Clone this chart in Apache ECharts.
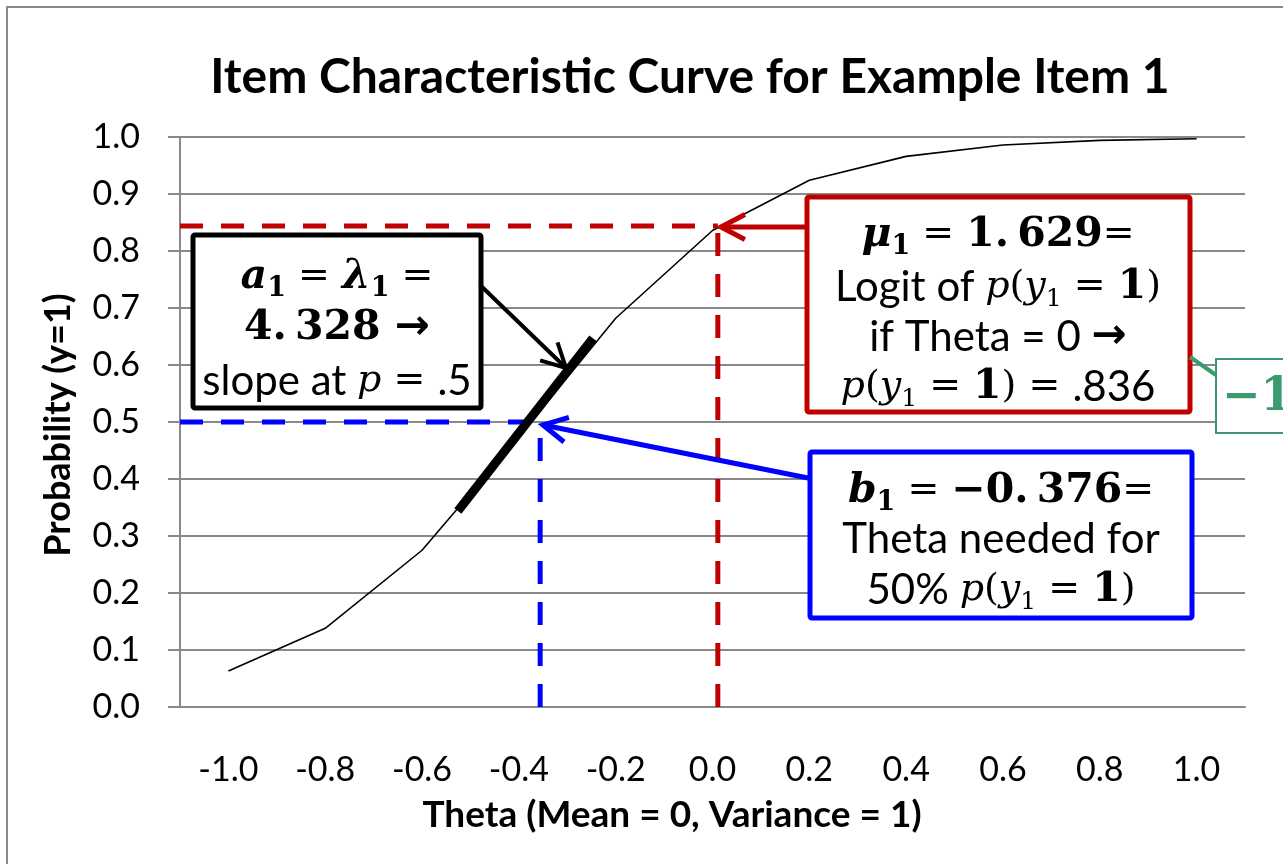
<!DOCTYPE html>
<html lang="en">
<head>
    <meta charset="UTF-8">
    <title>Item Characteristic Curve</title>
    <script src="https://cdn.jsdelivr.net/npm/echarts@6/dist/echarts.min.js"></script>
    <style>
        body { margin: 0; background: #fff; }
        #chart { width: 1283px; height: 864px; }
    </style>
</head>
<body>
<div id="chart"></div>
<script type="text/javascript">

// data
var thetaLabels = ['-1.0', '-0.8', '-0.6', '-0.4', '-0.2', '0.0', '0.2', '0.4', '0.6', '0.8', '1.0'];
var theta = [-1.0, -0.8, -0.6, -0.4, -0.2, 0.0, 0.2, 0.4, 0.6, 0.8, 1.0];
var prob = [0.063, 0.138, 0.275, 0.474, 0.682, 0.836, 0.924, 0.966, 0.986, 0.994, 0.997];

// guide lines (theta, p): horizontal from the y axis, vertical from the x axis
var bGuideH = [[-1.1, 0.5], [-0.356, 0.5]];
var bGuideV = [[-0.356, 0], [-0.356, 0.5]];
var muGuideH = [[-1.1, 0.844], [0.011, 0.844]];
var muGuideV = [[0.011, 0], [0.011, 0.844]];
var slopeLine = [[-0.526, 0.344], [-0.247, 0.647]];

var myChart = echarts.init(document.getElementById('chart'));

var gray = '#898989';
var sans = 'Lato';
var serif = 'DejaVu Serif';

function pairs(xs, ys) {
    var out = [];
    for (var i = 0; i < xs.length; i++) out.push([xs[i], ys[i]]);
    return out;
}

// open arrow head like the excel shapes
function arrow(x1, y1, x2, y2, color, w) {
    var ang = Math.atan2(y2 - y1, x2 - x1);
    var L = 27, a = Math.PI / 6.5;
    var p1 = [x2 - L * Math.cos(ang - a), y2 - L * Math.sin(ang - a)];
    var p2 = [x2 - L * Math.cos(ang + a), y2 - L * Math.sin(ang + a)];
    return [
        {type: 'line', z: 100, shape: {x1: x1, y1: y1, x2: x2, y2: y2}, style: {stroke: color, lineWidth: w}},
        {type: 'polyline', z: 100, shape: {points: [p1, [x2, y2], p2]}, style: {stroke: color, lineWidth: w, fill: null}}
    ];
}

function box(x, y, w, h, color, lw) {
    return {type: 'rect', z: 90, shape: {x: x, y: y, width: w, height: h, r: 2},
        style: {fill: '#fff', stroke: color, lineWidth: lw}};
}

function guide(name, data, color) {
    return {
        name: name, type: 'line', xAxisIndex: 1, data: data,
        symbol: 'none', lineStyle: {color: color, width: 5, type: [23, 18]}, z: 4
    };
}

var rich = {
    mb: {fontFamily: serif, fontWeight: 'bold', fontStyle: 'italic', fontSize: 41, lineHeight: 50, verticalAlign: 'middle', color: '#000'},
    nb: {fontFamily: serif, fontWeight: 'bold', fontSize: 41, lineHeight: 50, verticalAlign: 'middle', color: '#000'},
    op: {fontFamily: serif, fontSize: 38, lineHeight: 50, verticalAlign: 'middle', color: '#000'},
    mi: {fontFamily: serif, fontStyle: 'italic', fontSize: 38, lineHeight: 50, verticalAlign: 'middle', color: '#000'},
    sb: {fontFamily: serif, fontWeight: 'bold', fontSize: 27, lineHeight: 27, verticalAlign: 'bottom', color: '#000'},
    si: {fontFamily: serif, fontSize: 25, lineHeight: 25, verticalAlign: 'bottom', color: '#000'},
    w: {fontFamily: sans, fontSize: 42, lineHeight: 50, verticalAlign: 'middle', color: '#000'},
    ar: {fontFamily: 'DejaVu Sans', fontWeight: 'bold', fontSize: 42, lineHeight: 50, verticalAlign: 'middle', color: '#000'}
};

function label(x, y, text) {
    return {type: 'text', z: 110, x: x, y: y,
        style: {text: text, rich: rich, align: 'center', verticalAlign: 'middle'}};
}

var graphics = [
    // outer chart border
    {type: 'rect', z: 1, shape: {x: 7, y: 7, width: 1400, height: 1000},
        style: {fill: null, stroke: gray, lineWidth: 2}},
    {type: 'text', x: 690, y: 78, style: {text: 'Item Characteristic Curve for Example Item 1',
        fontFamily: sans, fontWeight: 'bold', fontSize: 48, fill: '#000', align: 'center', verticalAlign: 'middle'}},
    {type: 'text', x: 672, y: 815, style: {text: 'Theta (Mean = 0, Variance = 1)',
        fontFamily: sans, fontWeight: 'bold', fontSize: 37, fill: '#000', align: 'center', verticalAlign: 'middle'}},
    {type: 'text', x: 58, y: 425, rotation: Math.PI / 2, style: {text: 'Probability (y=1)',
        fontFamily: sans, fontWeight: 'bold', fontSize: 36, fill: '#000', align: 'center', verticalAlign: 'middle'}},

    // a1 box
    box(193, 235, 288, 173, '#000', 5),
    label(337, 277, '{mb|a}{sb|1}{op| = }{mb|λ}{sb|1}{op| =}'),
    label(337, 328, '{nb|4.\u2009328 }{ar|→}'),
    label(337, 381, '{w|slope at }{mi|p}{op| = }{w|.5}'),

    // mu box
    box(807, 197, 383, 215, '#c00000', 5),
    label(998, 235, '{mb|μ}{sb|1}{op| = }{nb|1.\u2009629}{op|=}'),
    label(998, 287, '{w|Logit of }{mi|p}{op|(}{mi|y}{si|1}{op| = }{nb|1}{op|)}'),
    label(998, 337, '{w|if Theta = 0 }{ar|→}'),
    label(998, 387, '{mi|p}{op|(}{mi|y}{si|1}{op| = }{nb|1}{op|) = }{w|.836}'),

    // b box
    box(810, 452, 382, 166, '#0000ff', 5),
    label(1001, 491, '{mb|b}{sb|1}{op| = }{nb|−0.\u2009376}{op|=}'),
    label(1001, 539, '{w|Theta needed for}'),
    label(1001, 590, '{w|50% }{mi|p}{op|(}{mi|y}{si|1}{op| = }{nb|1}{op|)}'),

    // green cut-off box at the right edge
    {type: 'line', z: 100, shape: {x1: 1190, y1: 357, x2: 1216, y2: 375}, style: {stroke: '#3b9b6f', lineWidth: 4}},
    {type: 'rect', z: 90, shape: {x: 1216, y: 359, width: 120, height: 74}, style: {fill: '#fff', stroke: '#3b9b6f', lineWidth: 2}},
    {type: 'text', z: 110, x: 1222, y: 398, style: {text: '−1', fontFamily: serif, fontWeight: 'bold', fontSize: 46,
        fill: '#3b9b6f', align: 'left', verticalAlign: 'middle'}}
];

graphics = graphics
    .concat(arrow(808, 227, 721, 227, '#c00000', 5))
    .concat(arrow(808, 478, 543, 425, '#0000ff', 5))
    .concat(arrow(480, 285, 566, 368, '#000', 4));

option = {
    animation: false,
    backgroundColor: '#fff',
    grid: {left: 180, right: 38, top: 137, bottom: 157},
    xAxis: [
        {
            type: 'category',
            data: thetaLabels,
            boundaryGap: true,
            axisLine: {lineStyle: {color: gray, width: 2}},
            axisTick: {length: 12, lineStyle: {color: gray, width: 2}},
            axisLabel: {color: '#000', fontFamily: sans, fontSize: 34, margin: 46},
            splitLine: {show: false}
        },
        {
            type: 'value', min: -1.1, max: 1.1, show: false
        }
    ],
    yAxis: {
        type: 'value',
        min: 0, max: 1, interval: 0.1,
        axisLine: {show: true, onZero: false, lineStyle: {color: gray, width: 2}},
        axisTick: {show: true, length: 12, lineStyle: {color: gray, width: 2}},
        axisLabel: {color: '#000', fontFamily: sans, fontSize: 34, margin: 40,
            formatter: function (v) { return v.toFixed(1); }},
        splitLine: {lineStyle: {color: gray, width: 2}}
    },
    series: [
        {
            name: 'ICC', type: 'line', xAxisIndex: 1,
            data: pairs(theta, prob),
            symbol: 'none', lineStyle: {color: '#000', width: 1.6}, z: 3
        },
        guide('muH', muGuideH, '#c00000'),
        guide('muV', muGuideV, '#c00000'),
        guide('bH', bGuideH, '#0000ff'),
        guide('bV', bGuideV, '#0000ff'),
        {
            name: 'slope', type: 'line', xAxisIndex: 1, data: slopeLine,
            symbol: 'none', lineStyle: {color: '#000', width: 9, cap: 'butt'}, z: 5
        }
    ],
    graphic: graphics
};
myChart.setOption(option);

</script>
</body>
</html>
